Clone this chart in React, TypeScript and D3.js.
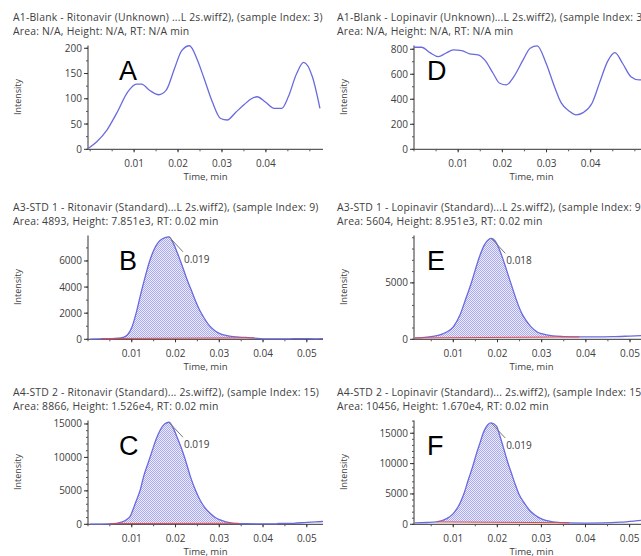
import React from 'react';
import * as d3 from 'd3';

// chromatogram traces (time in min, intensity in cps)
const timeA = [-0.0004, 0.0015, 0.0038, 0.006, 0.0086, 0.0105, 0.0117, 0.0135, 0.0156, 0.0173, 0.0192, 0.0208, 0.0226, 0.0244, 0.0259, 0.0278, 0.0297, 0.0312, 0.0331, 0.035, 0.0365, 0.038, 0.0398, 0.0419, 0.0436, 0.0451, 0.047, 0.0486, 0.0506, 0.0523];
const intensityA = [2, 15, 38, 71, 114, 129, 129, 117, 108, 117, 160, 195, 205, 177, 141, 94, 61, 58, 73, 88, 99, 104, 94, 81, 81, 104, 150, 172, 143, 81];

const timeB = [0.0005, 0.003, 0.005, 0.007, 0.008, 0.009, 0.01, 0.011, 0.012, 0.013, 0.014, 0.015, 0.016, 0.017, 0.0185, 0.0195, 0.0205, 0.0215, 0.0225, 0.0235, 0.0245, 0.0255, 0.0265, 0.0275, 0.029, 0.03, 0.032, 0.034, 0.036, 0.038, 0.04, 0.043, 0.046, 0.049, 0.052, 0.0537];
const intensityB = [20, 30, 40, 80, 150, 330, 900, 2000, 3400, 4700, 5900, 6800, 7400, 7700, 7851, 7350, 6550, 5650, 4700, 3850, 3000, 2250, 1650, 1150, 650, 450, 260, 180, 140, 90, 40, 30, 40, 50, 40, 50];

const timeC = [0.0005, 0.003, 0.005, 0.0065, 0.008, 0.009, 0.0096, 0.0105, 0.0111, 0.012, 0.0127, 0.0137, 0.0146, 0.0155, 0.0165, 0.0175, 0.0185, 0.0195, 0.0205, 0.0215, 0.0225, 0.0234, 0.0245, 0.0256, 0.0267, 0.0279, 0.029, 0.0302, 0.0315, 0.0333, 0.036, 0.04, 0.043, 0.0435, 0.047, 0.05, 0.052, 0.0537];
const intensityC = [20, 30, 60, 150, 400, 800, 1150, 2600, 3640, 5300, 7130, 9100, 10860, 12600, 14100, 15000, 15260, 14350, 12800, 11100, 9100, 7130, 5200, 3640, 2500, 1640, 1050, 650, 350, 150, 80, 50, 50, 120, 150, 300, 350, 420];

const timeD = [0, 0.0017, 0.0036, 0.0055, 0.0072, 0.0089, 0.0108, 0.0126, 0.0145, 0.016, 0.0179, 0.0194, 0.0209, 0.0226, 0.0247, 0.0263, 0.0279, 0.0299, 0.0318, 0.0333, 0.035, 0.0367, 0.0383, 0.0403, 0.0421, 0.0438, 0.0455, 0.0472, 0.0491, 0.051, 0.0532];
const intensityD = [816, 816, 773, 741, 768, 795, 789, 763, 755, 715, 608, 528, 515, 581, 715, 808, 827, 688, 501, 373, 309, 275, 293, 368, 541, 701, 773, 688, 581, 555, 565];

const timeE = [0.0013, 0.004, 0.006, 0.0085, 0.01, 0.0115, 0.013, 0.014, 0.015, 0.016, 0.017, 0.018, 0.0186, 0.0195, 0.0205, 0.0215, 0.0225, 0.0235, 0.0245, 0.0255, 0.0265, 0.0275, 0.029, 0.03, 0.0325, 0.035, 0.0385, 0.042, 0.046, 0.05, 0.0543];
const intensityE = [120, 200, 300, 650, 1100, 2150, 3800, 4900, 6200, 7400, 8350, 8850, 8951, 8700, 7900, 6800, 5600, 4400, 3250, 2300, 1650, 1150, 650, 500, 300, 240, 210, 210, 230, 290, 360];

const timeF = [0.0013, 0.004, 0.0062, 0.0085, 0.01, 0.0115, 0.0125, 0.0134, 0.0144, 0.0153, 0.0161, 0.0168, 0.0179, 0.0186, 0.0198, 0.0206, 0.0213, 0.0222, 0.0232, 0.0241, 0.025, 0.0262, 0.0273, 0.0286, 0.0299, 0.0313, 0.0326, 0.0363, 0.04, 0.044, 0.048, 0.0513, 0.0544];
const intensityF = [220, 300, 390, 940, 1770, 3430, 5200, 7300, 9500, 11730, 13500, 15050, 16450, 16700, 16160, 14500, 12840, 10600, 8410, 6500, 4810, 3400, 2320, 1500, 940, 600, 390, 220, 200, 220, 350, 550, 770];

// integration window [start, end] and baseline intensity at both ends
const integB = [0.003, 0.038];
const integBaseB = [60, 110];
const integC = [0.005, 0.0345];
const integBaseC = [110, 150];
const integE = [0.0013, 0.0385];
const integBaseE = [120, 210];
const integF = [0.0062, 0.0363];
const integBaseF = [390, 260];

const titles = [
  'A1-Blank - Ritonavir (Unknown) ...L 2s.wiff2), (sample Index: 3)',
  'A3-STD 1 - Ritonavir (Standard)...L 2s.wiff2), (sample Index: 9)',
  'A4-STD 2 - Ritonavir (Standard)... 2s.wiff2), (sample Index: 15)',
  'A1-Blank - Lopinavir (Unknown)...L 2s.wiff2), (sample Index: 3)',
  'A3-STD 1 - Lopinavir (Standard)...L 2s.wiff2), (sample Index: 9)',
  'A4-STD 2 - Lopinavir (Standard)... 2s.wiff2), (sample Index: 15)',
];
const subtitles = [
  'Area: N/A, Height: N/A, RT: N/A min',
  'Area: 4893, Height: 7.851e3, RT: 0.02 min',
  'Area: 8866, Height: 1.526e4, RT: 0.02 min',
  'Area: N/A, Height: N/A, RT: N/A min',
  'Area: 5604, Height: 8.951e3, RT: 0.02 min',
  'Area: 10456, Height: 1.670e4, RT: 0.02 min',
];
const letters = ['A', 'B', 'C', 'D', 'E', 'F'];
const peakLabels = [null, '0.019', '0.019', null, '0.018', '0.019'];

const yTicksA = [0, 50, 100, 150, 200];
const yTicksB = [0, 2000, 4000, 6000];
const yTicksC = [0, 5000, 10000, 15000];
const yTicksD = [0, 200, 400, 600, 800];
const yTicksE = [0, 5000];
const yTicksF = [0, 5000, 10000, 15000];
const xTicksShort = [0.01, 0.02, 0.03, 0.04];
const xTicksLong = [0.01, 0.02, 0.03, 0.04, 0.05];

// layout
const W = 641;
const H = 556;
const PLOT_W = 235;
const PLOT_TOP = 45.5;
const PLOT_BOTTOM = 149.3;
const FONT = "'Open Sans', sans-serif";
const TEXT = '#404040';
const LINE = '#6a6ade';

type PanelDef = {
  id: string;
  col: number;
  row: number;
  times: number[];
  values: number[];
  xDomain: [number, number];
  yMax: number;
  yTicks: number[];
  yMinor: number;
  xTicks: number[];
  integ?: number[];
  integBase?: number[];
};

const panels: PanelDef[] = [
  { id: 'a', col: 0, row: 0, times: timeA, values: intensityA, xDomain: [-0.0005, 0.053], yMax: 205.5, yTicks: yTicksA, yMinor: 25, xTicks: xTicksShort },
  { id: 'b', col: 0, row: 1, times: timeB, values: intensityB, xDomain: [0, 0.0537], yMax: 7950, yTicks: yTicksB, yMinor: 1000, xTicks: xTicksLong, integ: integB, integBase: integBaseB },
  { id: 'c', col: 0, row: 2, times: timeC, values: intensityC, xDomain: [0, 0.0537], yMax: 15520, yTicks: yTicksC, yMinor: 1000, xTicks: xTicksLong, integ: integC, integBase: integBaseC },
  { id: 'd', col: 1, row: 0, times: timeD, values: intensityD, xDomain: [0, 0.0532], yMax: 830, yTicks: yTicksD, yMinor: 100, xTicks: xTicksShort },
  { id: 'e', col: 1, row: 1, times: timeE, values: intensityE, xDomain: [0.0011, 0.0543], yMax: 9200, yTicks: yTicksE, yMinor: 1000, xTicks: xTicksLong, integ: integE, integBase: integBaseE },
  { id: 'f', col: 1, row: 2, times: timeF, values: intensityF, xDomain: [0.0011, 0.0544], yMax: 17100, yTicks: yTicksF, yMinor: 1000, xTicks: xTicksLong, integ: integF, integBase: integBaseF },
];

const colAxisX = [88, 414];
const colTitleX = [13, 337];
const colLetterDx = [31, 13];
const colYLabelX = [21, 347];
const rowTop = [0, 190, 375];

const Panel = ({ p, index }: { p: PanelDef; index: number }) => {
  const ax = colAxisX[p.col];
  const top = rowTop[p.row];
  const x = d3.scaleLinear().domain(p.xDomain).range([ax, ax + PLOT_W]);
  const y = d3.scaleLinear().domain([0, p.yMax]).range([top + PLOT_BOTTOM, top + PLOT_TOP]);
  const pts: [number, number][] = p.times.map((t, i) => [t, p.values[i]]);

  const line = d3.line<[number, number]>()
    .x(d => x(d[0]))
    .y(d => y(d[1]))
    .curve(d3.curveMonotoneX);

  let fillPath: string | null = null;
  let basePath: string | null = null;
  if (p.integ && p.integBase) {
    const [t0, t1] = p.integ;
    const base = d3.scaleLinear().domain([t0, t1]).range(p.integBase);
    const curveAt = d3.scaleLinear().domain(p.times).range(p.values);
    const inner: [number, number][] = [
      [t0, curveAt(t0)],
      ...pts.filter(d => d[0] > t0 && d[0] < t1),
      [t1, curveAt(t1)],
    ];
    fillPath = d3.area<[number, number]>()
      .x(d => x(d[0]))
      .y0(d => y(base(d[0])))
      .y1(d => y(d[1]))
      .curve(d3.curveMonotoneX)(inner);
    basePath = d3.line<[number, number]>()
      .x(d => x(d[0]))
      .y(d => y(d[1]))([[t0, p.integBase[0]], [t1, p.integBase[1]]]);
  }

  const peak = d3.greatestIndex(p.values);
  const px = x(p.times[peak]);
  const py = y(p.values[peak]);
  const label = peakLabels[index];

  const xMinor = d3.range(Math.ceil(p.xDomain[0] / 0.005), Math.floor(p.xDomain[1] / 0.005) + 1).map(k => k * 0.005);
  const yMinor = d3.range(0, Math.floor(p.yMax / p.yMinor) + 1).map(k => k * p.yMinor);
  const bottom = top + PLOT_BOTTOM;
  const clipId = `clip-${p.id}`;

  return (
    <g>
      <defs>
        <clipPath id={clipId}>
          <rect x={ax} y={top + PLOT_TOP - 4} width={PLOT_W} height={PLOT_BOTTOM - PLOT_TOP + 5} />
        </clipPath>
      </defs>
      <text x={colTitleX[p.col]} y={top + 20.5} fontSize={10.4} letterSpacing={0.2} fill={TEXT}>{titles[index]}</text>
      <text x={colTitleX[p.col]} y={top + 34.5} fontSize={10.4} letterSpacing={0.2} fill={TEXT}>{subtitles[index]}</text>

      {/* y axis */}
      <line x1={ax} x2={ax} y1={top + PLOT_TOP} y2={bottom} stroke="#333" />
      {yMinor.map(v => (
        <line key={`ym${v}`} x1={ax - 2} x2={ax} y1={y(v)} y2={y(v)} stroke="#555" />
      ))}
      {p.yTicks.map(v => (
        <g key={`y${v}`}>
          <line x1={ax - 4} x2={ax} y1={y(v)} y2={y(v)} stroke="#333" />
          <text x={ax - 6} y={y(v)} dy="0.35em" textAnchor="end" fontSize={10} fill={TEXT}>{v}</text>
        </g>
      ))}
      <text transform={`translate(${colYLabelX[p.col]},${top + 97}) rotate(-90)`} textAnchor="middle" fontSize={9} fill={TEXT}>Intensity</text>

      {/* x axis */}
      <line x1={ax} x2={ax + PLOT_W} y1={bottom} y2={bottom} stroke="#333" />
      {xMinor.map(t => (
        <line key={`xm${t}`} x1={x(t)} x2={x(t)} y1={bottom} y2={bottom + 2} stroke="#555" />
      ))}
      {p.xTicks.map(t => (
        <g key={`x${t}`}>
          <line x1={x(t)} x2={x(t)} y1={bottom} y2={bottom + 3} stroke="#333" />
          <text x={x(t)} y={bottom + 17.5} textAnchor="middle" fontSize={10} fill={TEXT}>{d3.format('.2f')(t)}</text>
        </g>
      ))}
      <text x={ax + PLOT_W / 2} y={bottom + 30.5} textAnchor="middle" fontSize={9.6} fill={TEXT}>Time, min</text>

      {/* traces drawn over the axes, like the instrument software */}
      <g clipPath={`url(#${clipId})`}>
        {fillPath && <path d={fillPath} fill="url(#dots)" stroke="none" />}
        <path d={line(pts) ?? ''} fill="none" stroke={LINE} strokeWidth={1.3} strokeLinejoin="round" />
        {basePath && <path d={basePath} fill="none" stroke="#e04848" strokeWidth={1} />}
      </g>

      {label && (
        <g>
          <line x1={px} y1={py} x2={px + 14} y2={py + 15} stroke="#777" strokeWidth={1} />
          <text x={px + 15} y={py + 26} fontSize={10} fill={TEXT}>{label}</text>
        </g>
      )}

      <text x={ax + colLetterDx[p.col]} y={top + 79.5} fontSize={27} fill="#000" fontFamily="'Liberation Sans', Arial, sans-serif">{letters[index]}</text>
    </g>
  );
};

const App = () => (
  <svg width={W} height={H} style={{ position: 'absolute', left: 0, top: 0, background: '#fff' }} fontFamily={FONT}>
    <defs>
      <pattern id="dots" width={2} height={2} patternUnits="userSpaceOnUse">
        <rect width={2} height={2} fill="#ececfc" />
        <rect x={0} y={0} width={1} height={1} fill="#a9a9ee" />
        <rect x={1} y={1} width={1} height={1} fill="#a9a9ee" />
      </pattern>
    </defs>
    <rect width={W} height={H} fill="#fff" />
    {panels.map((p, i) => (
      <Panel key={p.id} p={p} index={i} />
    ))}
  </svg>
);

export default App;
